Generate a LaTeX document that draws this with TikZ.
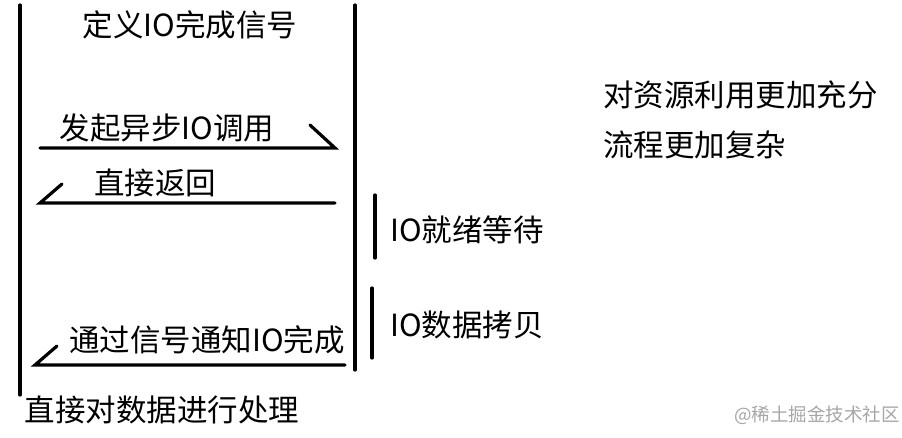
\documentclass[tikz,border=0pt]{standalone}
\usepackage{fontspec}
\setmainfont{Noto Sans CJK SC}
\begin{document}
\begin{tikzpicture}[x=1pt,y=-1pt,
  ln/.style={line width=3.2pt,line cap=round},
  lbl/.style={font=\fontsize{30.5}{32}\selectfont,inner sep=0pt}]
\useasboundingbox (0,0) rectangle (902,437);
\coordinate (l1) at (20,5); \coordinate (l2) at (20,395);
\coordinate (r1) at (355,5); \coordinate (r2) at (355,370);
\draw[ln] (l1) -- (l2);
\draw[ln] (r1) -- (r2);
\node[lbl] (t) at (190,25) {定义IO完成信号};
\node[lbl] (a) at (167,128) {发起异步IO调用};
\coordinate (a1) at (40,148); \coordinate (a2) at (335,148); \coordinate (a3) at (310,125);
\draw[ln] (a1) -- (a2) -- (a3);
\node[lbl] (b) at (155,183) {直接返回};
\coordinate (b1) at (335,203); \coordinate (b2) at (40,203); \coordinate (b3) at (62,184);
\draw[ln] (b1) -- (b2) -- (b3);
\coordinate (w1) at (375,195); \coordinate (w2) at (375,258);
\draw[ln] (w1) -- (w2);
\node[lbl,anchor=west] (w) at (390,230) {IO就绪等待};
\coordinate (c1) at (372,288); \coordinate (c2) at (372,358);
\draw[ln] (c1) -- (c2);
\node[lbl,anchor=west] (c) at (390,325) {IO数据拷贝};
\node[lbl] (n) at (207,340) {通过信号通知IO完成};
\coordinate (n1) at (345,365); \coordinate (n2) at (35,365); \coordinate (n3) at (57,346);
\draw[ln] (n1) -- (n2) -- (n3);
\node[lbl] (d) at (162,410) {直接对数据进行处理};
\node[lbl,anchor=west] (p1) at (603,95) {对资源利用更加充分};
\node[lbl,anchor=west] (p2) at (603,145) {流程更加复杂};
\node[font=\fontsize{18.5}{20}\selectfont,text=gray!70,inner sep=0pt,anchor=east] (wm) at (900,415) {@稀土掘金技术社区};
\end{tikzpicture}
\end{document}
